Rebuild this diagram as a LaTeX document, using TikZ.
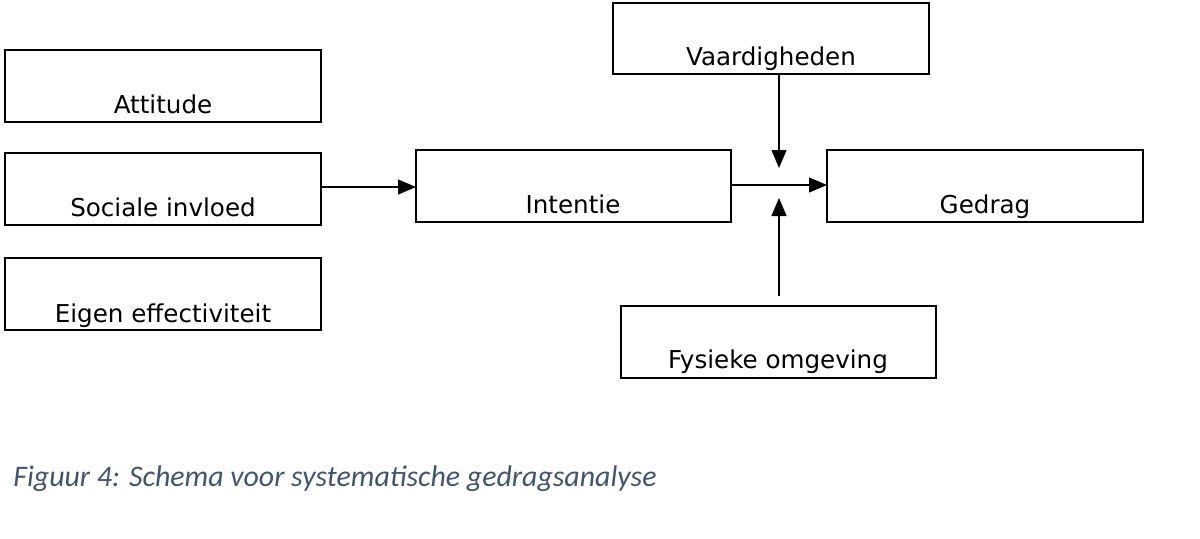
\documentclass[tikz,border=0pt]{standalone}
\usepackage{fontspec}
\setmainfont{DejaVu Sans}
\newfontfamily\capfont{Carlito}
\usetikzlibrary{arrows.meta}
\definecolor{capcol}{HTML}{44546A}
\begin{document}
\begin{tikzpicture}[x=0.02cm,y=-0.02cm,
  box/.style={draw,line width=0.9pt},
  lbl/.style={anchor=base,font=\fontsize{14}{16}\selectfont},
  arr/.style={line width=0.7pt,-{Triangle[length=0.36cm,width=0.3cm]}}]
\useasboundingbox (0,0) rectangle (1200,538);
\draw[box] (5,50) rectangle (321,122) coordinate (att);
\draw[box] (5,153) rectangle (321,225);
\draw[box] (5,258) rectangle (321,330);
\draw[box] (416,150) rectangle (731,222);
\draw[box] (827,150) rectangle (1143,222);
\draw[box] (613,3) rectangle (929,74);
\draw[box] (621,306) rectangle (936,378);
\node[lbl] (tatt) at (163,113) {Attitude};
\node[lbl] (tsoc) at (163,216) {Sociale invloed};
\node[lbl] (teig) at (163,322) {Eigen effectiviteit};
\node[lbl] (tint) at (573,213) {Intentie};
\node[lbl] (tged) at (985,213) {Gedrag};
\node[lbl] (tvaa) at (771,65) {Vaardigheden};
\node[lbl] (tfys) at (778,368) {Fysieke omgeving};
\coordinate (s1) at (321,187); \coordinate (i1) at (416,187);
\coordinate (s2) at (731,185); \coordinate (g1) at (827,185);
\coordinate (v1) at (779,74); \coordinate (v2) at (779,168);
\coordinate (f1) at (779,296); \coordinate (f2) at (779,198);
\draw[arr] (s1) -- (i1);
\draw[arr] (s2) -- (g1);
\draw[arr] (v1) -- (v2);
\draw[arr] (f1) -- (f2);
\node[anchor=base west,inner sep=0,text=capcol,font=\capfont\itshape\fontsize{17}{20}\selectfont] (cap) at (13,486) {Figuur 4: Schema voor systematische gedragsanalyse};
\end{tikzpicture}
\end{document}
